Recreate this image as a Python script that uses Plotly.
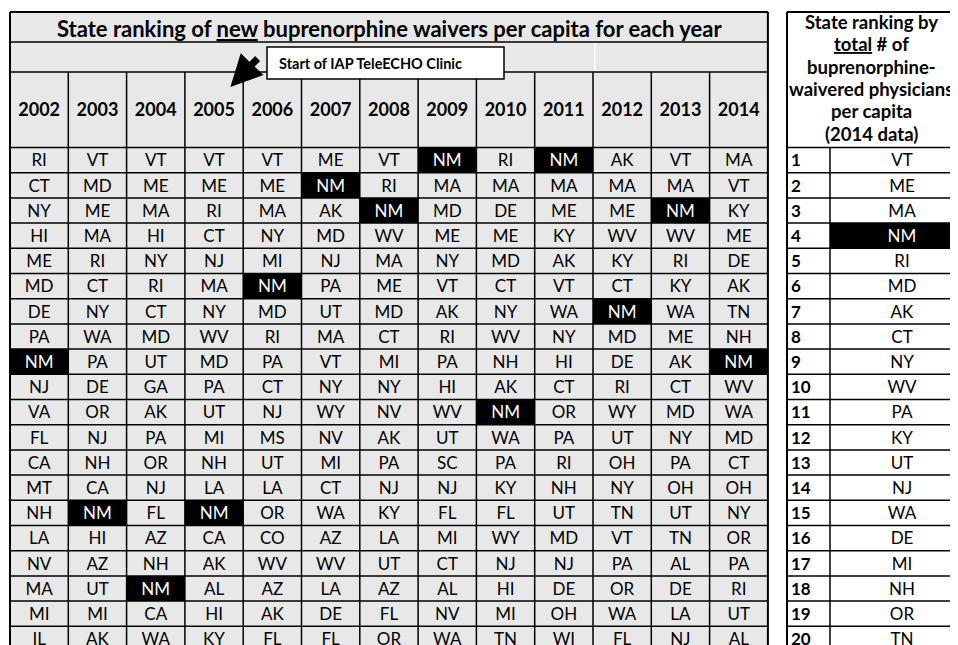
import plotly.graph_objects as go

# ---------------- data ----------------
years = ["2002", "2003", "2004", "2005", "2006", "2007", "2008",
         "2009", "2010", "2011", "2012", "2013", "2014"]

rank_2002 = ["RI", "CT", "NY", "HI", "ME", "MD", "DE", "PA", "NM", "NJ",
             "VA", "FL", "CA", "MT", "NH", "LA", "NV", "MA", "MI", "IL"]
rank_2003 = ["VT", "MD", "ME", "MA", "RI", "CT", "NY", "WA", "PA", "DE",
             "OR", "NJ", "NH", "CA", "NM", "HI", "AZ", "UT", "MI", "AK"]
rank_2004 = ["VT", "ME", "MA", "HI", "NY", "RI", "CT", "MD", "UT", "GA",
             "AK", "PA", "OR", "NJ", "FL", "AZ", "NH", "NM", "CA", "WA"]
rank_2005 = ["VT", "ME", "RI", "CT", "NJ", "MA", "NY", "WV", "MD", "PA",
             "UT", "MI", "NH", "LA", "NM", "CA", "AK", "AL", "HI", "KY"]
rank_2006 = ["VT", "ME", "MA", "NY", "MI", "NM", "MD", "RI", "PA", "CT",
             "NJ", "MS", "UT", "LA", "OR", "CO", "WV", "AZ", "AK", "FL"]
rank_2007 = ["ME", "NM", "AK", "MD", "NJ", "PA", "UT", "MA", "VT", "NY",
             "WY", "NV", "MI", "CT", "WA", "AZ", "WV", "LA", "DE", "FL"]
rank_2008 = ["VT", "RI", "NM", "WV", "MA", "ME", "MD", "CT", "MI", "NY",
             "NV", "AK", "PA", "NJ", "KY", "LA", "UT", "AZ", "FL", "OR"]
rank_2009 = ["NM", "MA", "MD", "ME", "NY", "VT", "AK", "RI", "PA", "HI",
             "WV", "UT", "SC", "NJ", "FL", "MI", "CT", "AL", "NV", "WA"]
rank_2010 = ["RI", "MA", "DE", "ME", "MD", "CT", "NY", "WV", "NH", "AK",
             "NM", "WA", "PA", "KY", "FL", "WY", "NJ", "HI", "MI", "TN"]
rank_2011 = ["NM", "MA", "ME", "KY", "AK", "VT", "WA", "NY", "HI", "CT",
             "OR", "PA", "RI", "NH", "UT", "MD", "NJ", "DE", "OH", "WI"]
rank_2012 = ["AK", "MA", "ME", "WV", "KY", "CT", "NM", "MD", "DE", "RI",
             "WY", "UT", "OH", "NY", "TN", "VT", "PA", "OR", "WA", "FL"]
rank_2013 = ["VT", "MA", "NM", "WV", "RI", "KY", "WA", "ME", "AK", "CT",
             "MD", "NY", "PA", "OH", "UT", "TN", "AL", "DE", "LA", "NJ"]
rank_2014 = ["MA", "VT", "KY", "ME", "DE", "AK", "TN", "NH", "NM", "WV",
             "WA", "MD", "CT", "OH", "NY", "OR", "PA", "RI", "UT", "AL"]

yearly_ranks = [rank_2002, rank_2003, rank_2004, rank_2005, rank_2006,
                rank_2007, rank_2008, rank_2009, rank_2010, rank_2011,
                rank_2012, rank_2013, rank_2014]

total_rank_numbers = [str(i) for i in range(1, 21)]
total_rank_states = ["VT", "ME", "MA", "NM", "RI", "MD", "AK", "CT", "NY", "WV",
                     "PA", "KY", "UT", "NJ", "WA", "DE", "MI", "NH", "OR", "TN"]

title_text = "State ranking of <u>new</u> buprenorphine waivers per capita for each year"
side_header_lines = ["State ranking by", "<u>total</u> # of", "buprenorphine-",
                     "waivered physicians", "per capita", "(2014 data)"]
callout_text = "Start of IAP TeleECHO Clinic"
highlight_state = "NM"

# ---------------- geometry & style ----------------
W, H = 958, 645
PAGE_OFF = 8  # default body margin of the html page
X0, CW = 10.0, 58.3
NCOL = len(years)
XR = X0 + CW * NCOL
Y_TOP, Y_BLANK, Y_YEAR, ROW0, RH = 12.0, 42.0, 72.0, 147.5, 25.2
NROW = len(total_rank_states)
Y_BOT = ROW0 + RH * NROW
RX0, RX1, RX2 = 787.0, 830.0, 980.0
TXT_DY = 2.0
GRAY = "#e8e8e8"
FONT = "Lato"
LW_IN, LW_OUT = 1.5, 2.0

fig = go.Figure()
shapes = []
annotations = []


def rect(x0, y0, x1, y1, fill, line_color=None, lw=0, layer="below"):
    shapes.append(dict(type="rect", xref="x", yref="y", x0=x0, x1=x1, y0=y0, y1=y1,
                       fillcolor=fill, line=dict(color=line_color or fill, width=lw),
                       layer=layer))


def line(x0, y0, x1, y1, lw=LW_IN, color="black"):
    shapes.append(dict(type="line", xref="x", yref="y", x0=x0, x1=x1, y0=y0, y1=y1,
                       line=dict(color=color, width=lw), layer="above"))


# backgrounds
rect(X0, Y_TOP, XR, Y_BOT, GRAY)

# cells of the yearly table
cell_x, cell_y, cell_t, cell_c = [], [], [], []
for ci, col in enumerate(yearly_ranks):
    for ri, st in enumerate(col):
        cx = X0 + CW * (ci + 0.5)
        cy = ROW0 + RH * (ri + 0.5) + TXT_DY
        if st == highlight_state:
            rect(X0 + CW * ci, ROW0 + RH * ri, X0 + CW * (ci + 1), ROW0 + RH * (ri + 1), "black")
        cell_x.append(cx)
        cell_y.append(cy)
        cell_t.append(st)
        cell_c.append("white" if st == highlight_state else "black")

# cells of the total table
tot_x, tot_y, tot_t, tot_c = [], [], [], []
num_x, num_y = [], []
for ri, st in enumerate(total_rank_states):
    cy = ROW0 + RH * (ri + 0.5) + TXT_DY
    if st == highlight_state:
        rect(RX1, ROW0 + RH * ri, RX2, ROW0 + RH * (ri + 1), "black")
    tot_x.append(902)
    tot_y.append(cy)
    tot_t.append(st)
    tot_c.append("white" if st == highlight_state else "black")
    num_x.append(RX0 + 4)
    num_y.append(cy)

# grid lines
for k in range(NROW + 1):
    y = ROW0 + RH * k
    line(X0, y, XR, y)
    line(RX0, y, RX2, y)
line(X0, Y_BLANK, XR, Y_BLANK)
line(X0, Y_YEAR, XR, Y_YEAR)
line(X0, Y_TOP, XR, Y_TOP, LW_OUT)
line(RX0, Y_TOP, RX2, Y_TOP, LW_OUT)
for k in range(1, NCOL):
    x = X0 + CW * k
    line(x, Y_YEAR, x, Y_BOT)
line(X0, Y_TOP, X0, Y_BOT, LW_OUT)
line(XR, Y_TOP, XR, Y_BOT, LW_OUT)
line(RX0, Y_TOP, RX0, Y_BOT, LW_OUT)
line(RX1, ROW0, RX1, Y_BOT)
# faint white divider in the blank row
line(595, Y_BLANK + 1, 595, Y_YEAR - 1, 1.5, "white")

# callout box
shapes.append(dict(type="rect", xref="x", yref="y", x0=267, x1=504, y0=47, y1=79,
                   fillcolor="white", line=dict(color="black", width=1.5), layer="above"))

# texts
fig.add_trace(go.Scatter(x=cell_x, y=cell_y, text=cell_t, mode="text",
                         textfont=dict(family=FONT, size=17, color=cell_c),
                         hoverinfo="skip", showlegend=False))
fig.add_trace(go.Scatter(x=[X0 + CW * (i + 0.5) for i in range(NCOL)],
                         y=[(Y_YEAR + ROW0) / 2 + 2] * NCOL,
                         text=["<b>%s</b>" % y for y in years], mode="text",
                         textfont=dict(family=FONT, size=18, color="black"),
                         hoverinfo="skip", showlegend=False))
fig.add_trace(go.Scatter(x=tot_x, y=tot_y, text=tot_t, mode="text",
                         textfont=dict(family=FONT, size=17, color=tot_c),
                         hoverinfo="skip", showlegend=False))
fig.add_trace(go.Scatter(x=num_x, y=num_y, text=["<b>%s</b>" % n for n in total_rank_numbers],
                         mode="text", textposition="middle right",
                         textfont=dict(family=FONT, size=17, color="black"),
                         hoverinfo="skip", showlegend=False))

annotations.append(dict(x=389, y=(Y_TOP + Y_BLANK) / 2 + 1, xref="x", yref="y",
                        text="<b>%s</b>" % title_text, showarrow=False,
                        font=dict(family=FONT, size=22, color="black")))
for i, ln in enumerate(side_header_lines):
    annotations.append(dict(x=871, y=22 + 22.3 * i, xref="x", yref="y",
                            text="<b>%s</b>" % ln, showarrow=False,
                            font=dict(family=FONT, size=18.5, color="black")))
annotations.append(dict(x=277, y=63, xref="x", yref="y", xanchor="left",
                        text="<b>%s</b>" % callout_text, showarrow=False,
                        font=dict(family=FONT, size=14.5, color="black")))
# arrow pointing to the 2005 column
ci = years.index("2005")
annotations.append(dict(x=X0 + CW * (ci + 0.78), y=87, xref="x", yref="y",
                        ax=259, ay=57, axref="x", ayref="y", text="",
                        showarrow=True, arrowhead=2, arrowsize=0.9, arrowwidth=7,
                        arrowcolor="black"))

fig.update_layout(
    width=W - PAGE_OFF, height=H - PAGE_OFF, margin=dict(l=0, r=0, t=0, b=0),
    paper_bgcolor="white", plot_bgcolor="white",
    xaxis=dict(range=[PAGE_OFF, W], visible=False, fixedrange=True),
    yaxis=dict(range=[H, PAGE_OFF], visible=False, fixedrange=True),
    shapes=shapes, annotations=annotations, showlegend=False,
)

fig.write_html("out.html")
